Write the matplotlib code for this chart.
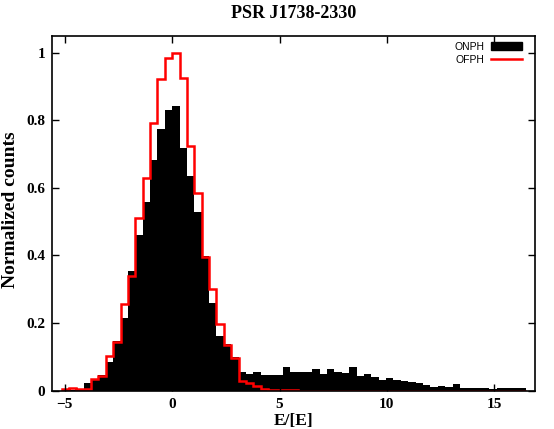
import numpy as np
import matplotlib.pyplot as plt
from matplotlib.patches import Patch
from matplotlib.lines import Line2D

# histogram bins (E/[E]), 63 bins of ~0.344, first edge at -5.15
bin_width = 0.3436
edges = (np.arange(64) - 15) * bin_width

# ONPH: on-pulse energy distribution (normalized)
onph = [0.002, 0.003, 0.003, 0.024, 0.034, 0.046, 0.086, 0.147, 0.214, 0.355,
        0.461, 0.559, 0.683, 0.773, 0.830, 0.843, 0.717, 0.635, 0.530, 0.398,
        0.259, 0.162, 0.138, 0.100, 0.056, 0.049, 0.056, 0.046, 0.046, 0.046,
        0.071, 0.056, 0.055, 0.056, 0.063, 0.049, 0.063, 0.056, 0.053, 0.071,
        0.044, 0.049, 0.041, 0.032, 0.037, 0.032, 0.028, 0.025, 0.022, 0.017,
        0.012, 0.013, 0.010, 0.019, 0.009, 0.007, 0.007, 0.007, 0.005, 0.009,
        0.009, 0.009, 0.009]

# OFPH: off-pulse energy distribution (normalized)
ofph = [0.004, 0.007, 0.005, 0.005, 0.035, 0.042, 0.103, 0.145, 0.256, 0.340,
        0.511, 0.630, 0.793, 0.921, 0.983, 1.000, 0.926, 0.725, 0.584, 0.396,
        0.300, 0.196, 0.135, 0.096, 0.029, 0.022, 0.014, 0.004, 0.003, 0.003,
        0.002, 0.001] + [0.0] * 31

xticks = [-5, 0, 5, 10, 15]
yticks = [0, 0.2, 0.4, 0.6, 0.8, 1]
ytick_labels = ['0', '0.2', '0.4', '0.6', '0.8', '1']

serif = 'Liberation Serif'

fig = plt.figure(figsize=(5.54, 4.29), dpi=100)
ax = fig.add_axes([0.0939, 0.0893, 0.8718, 0.8275])

ax.stairs(onph, edges, fill=True, color='black')
ax.stairs(ofph, edges, color='red', linewidth=1.8)

ax.set_xlim(-5.6, 16.9)
ax.set_ylim(0, 1.05)
ax.set_xticks(xticks)
ax.set_yticks(yticks)
ax.set_yticklabels(ytick_labels)

ax.tick_params(direction='in', length=5, width=1, top=True, right=True, pad=5)
for lab in ax.get_xticklabels() + ax.get_yticklabels():
    lab.set_fontfamily(serif)
    lab.set_fontweight('bold')
    lab.set_fontsize(11)
for sp in ax.spines.values():
    sp.set_linewidth(1.2)

ax.set_title('PSR J1738-2330', fontfamily=serif, fontweight='bold', fontsize=13, pad=13)
ax.set_xlabel('E/[E]', fontfamily=serif, fontweight='bold', fontsize=12.5, labelpad=2)
ax.set_ylabel('Normalized counts', fontfamily=serif, fontweight='bold', fontsize=14)
ax.yaxis.set_label_coords(-0.068, 0.51)

handles = [Patch(facecolor='black', edgecolor='black'),
           Line2D([0], [0], color='red', linewidth=1.8)]
ax.legend(handles, ['ONPH', 'OFPH'], loc='upper right', bbox_to_anchor=(0.973, 0.983),
          frameon=False, markerfirst=False, borderaxespad=0, borderpad=0,
          handlelength=3.0, handleheight=0.7, handletextpad=0.6, labelspacing=0.3,
          prop={'family': 'Liberation Sans', 'size': 7.5})

fig.savefig('out.png', dpi=100)
